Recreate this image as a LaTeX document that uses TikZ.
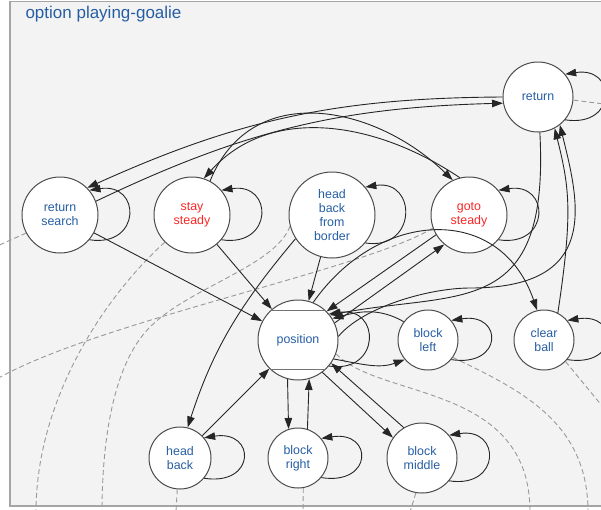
\documentclass[tikz,border=0pt]{standalone}
\usepackage{fontspec}
\setmainfont{Liberation Sans}
\usetikzlibrary{arrows.meta,positioning}
\definecolor{statetext}{RGB}{38,94,164}
\definecolor{activetext}{RGB}{250,38,38}
\definecolor{framebg}{RGB}{243,243,243}
\definecolor{frameline}{RGB}{165,165,165}
\tikzset{state/.style={circle,draw=black!70,fill=white,line width=1pt,
                       text=statetext,align=center,inner sep=0pt,
                       font=\fontsize{12.4pt}{14pt}\selectfont},
         active/.style={state,text=activetext},
         trans/.style={->,draw=black!85,line width=0.9pt},
         outside/.style={draw=black!40,line width=0.9pt,
                         dash pattern=on 5pt off 3pt}}

\begin{document}
\begin{tikzpicture}[x=1pt,y=-1pt,>={Triangle[length=11pt,width=7.5pt]}]

\path[use as bounding box] (0,0) rectangle (601,509);
\clip (0,0) rectangle (601,509);
\draw[frameline,fill=framebg,line width=1.5pt] (10,1.5) rectangle (640,506);
\node[anchor=base west,text=statetext,font=\fontsize{17pt}{20pt}\selectfont] (title) at (22,18.5) {option playing-goalie};

\node[state,minimum size=70pt] (ret) at (538,97) {return};

\node[state,minimum size=76pt] (retsearch) at (60,215) {return\\search};
\node[active,minimum size=76pt,right=55pt of retsearch] (stay) {stay\\steady};
\node[state,minimum size=86pt,right=58pt of stay] (hbborder) {head\\back\\from\\border};
\node[active,minimum size=76pt,right=55pt of hbborder] (goto) {goto\\steady};

\node[state,minimum size=80pt] (position) at (298,340) {position};
\draw[black!55,line width=1.2pt] (position.133) -- (position.47);
\draw[black!55,line width=1.2pt] (position.227) -- (position.313);
\node[state,minimum size=60pt,right=59pt of position] (blockl) {block\\left};
\node[state,minimum size=60pt,right=55pt of blockl] (clear) {clear\\ball};

\node[state,minimum size=62pt] (headback) at (180,458) {head\\back};
\node[state,minimum size=60pt,right=56pt of headback] (blockr) {block\\right};
\node[state,minimum size=70pt,right=58pt of blockr] (blockm) {block\\middle};

% transitions leaving the option
\coordinate (exitret) at (612,105);
\coordinate (exitrs) at (-5,247);
\coordinate (exitstay) at (36,512);
\coordinate (exithbb) at (102,512);
\coordinate (exitgoto) at (-5,380);
\coordinate (exitpos) at (530,512);
\coordinate (exitbl) at (588,512);
\coordinate (exitcb) at (612,418);
\coordinate (exithb) at (176,512);
\coordinate (exitbr) at (303,512);
\coordinate (exitbm) at (410,512);
\draw[outside] (ret.-5) -- (exitret);
\draw[outside] (retsearch.208) -- (exitrs);
\draw[outside] (stay.225) .. controls +(-64,58) and +(0,-109) .. (exitstay);
\draw[outside] (hbborder.195) .. controls +(-15,40) and +(40,-40) .. (150,327)
                              .. controls +(-40,40) and +(0,-60) .. (exithbb);
\draw[outside] (goto.200) .. controls +(-70,42) and +(100,-58) .. (exitgoto);
\draw[outside] (position.-20) .. controls +(44,46) and +(0,-129) .. (exitpos);
\draw[outside] (blockl.-35) .. controls +(69,33) and +(0,-89) .. (exitbl);
\draw[outside] (clear.-45) -- (exitcb);
\draw[outside] (headback.-95) -- (exithb);
\draw[outside] (blockr.-80) -- (exitbr);
\draw[outside] (blockm.-100) -- (exitbm);

% self loops
\foreach \n in {ret,retsearch,stay,hbborder,goto,position,blockl,clear,headback,blockr,blockm}
  {\draw[trans] (\n.-40) .. controls +(52,8) and +(52,-8) .. (\n.40);}

% transitions between states
\draw[trans] (retsearch) -- (position);
\draw[trans] (stay) -- (position);
\draw[trans] (hbborder) -- (position);
\draw[trans] (hbborder.213) to[out=230,in=72] (headback.76);
\draw[trans] (headback) -- (position);
\draw[trans] (position.255) -- (blockr.108);
\draw[trans] (blockr.72) -- (position.286);
\draw[trans] (position.-53) -- (blockm.145);
\draw[trans] (blockm.121) -- (position.-35);
\draw[trans] (position.-28) to[out=-10,in=200] (blockl.220);
\draw[trans] (blockl.143) to[out=150,in=15] (position.32);
\draw[trans] (position.25) -- (goto.230);
\draw[trans] (goto.211) -- (position.45);
\draw[trans] (position.68) to[out=55,in=109,looseness=1.3] (clear.103);
\draw[trans] (clear.63) .. controls +(15,-100) and +(15,60) .. (ret.-62);
\draw[trans] (ret.-87) .. controls +(10,188) and +(130,-25) .. (position.38);
\draw[trans] (position.5) .. controls +(25,-30) and +(-40,0) .. (470,288)
                          .. controls +(130,0) and +(20,80) .. (ret.-52);
\draw[trans] (ret.180) to[bend right=12] (retsearch.45);
\draw[trans] (retsearch.21) to[bend left=12] (ret.190);
\draw[trans] (stay.62) to[out=68,in=136,looseness=1.15] (goto.115);
\draw[trans] (goto.104) to[out=146,in=48] (stay.72);

\end{tikzpicture}
\end{document}
